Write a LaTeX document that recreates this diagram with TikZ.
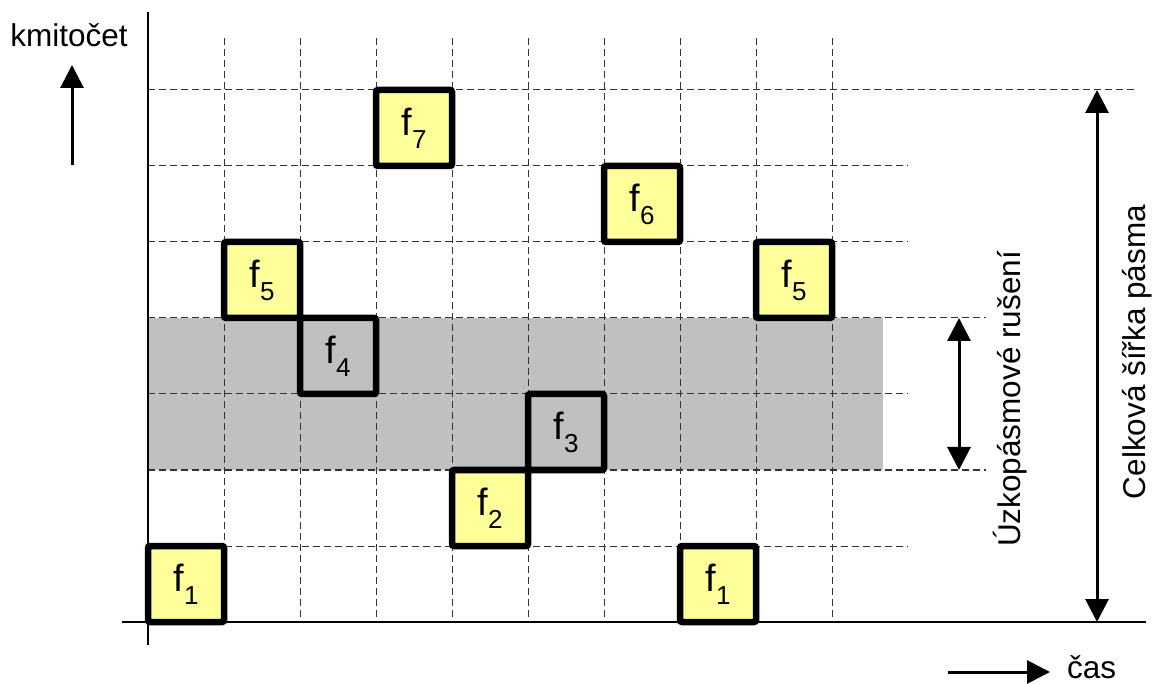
\documentclass[tikz,border=0pt]{standalone}
\usepackage{fontspec}
\setmainfont{Liberation Sans}
\usetikzlibrary{arrows.meta}
\definecolor{boxyellow}{RGB}{255,255,153}
\definecolor{bandgray}{RGB}{192,192,192}
\newcommand\flab[1]{f\raisebox{-13pt}{\fontsize{26}{26}\selectfont #1}}
\begin{document}
\begin{tikzpicture}[x=1pt,y=-1pt,
  gridline/.style={black!80, line width=1pt, dash pattern=on 7pt off 4pt},
  cell/.style={draw=black, line width=6.5pt, rounded corners=2pt, minimum size=76pt,
    inner sep=0pt, fill=boxyellow, font=\fontsize{38}{38}\selectfont},
  graycell/.style={cell, fill=none},
  axisline/.style={line width=2pt},
  arr/.style={line width=3pt, -{Triangle[length=23pt,width=23pt]}},
  darr/.style={line width=3pt, {Triangle[length=23pt,width=23pt]}-{Triangle[length=23pt,width=23pt]}},
  lbl/.style={font=\fontsize{31.5}{31.5}\selectfont, inner sep=0pt}
]
\useasboundingbox (0,0) rectangle (1157,684);
% interference band
\fill[bandgray] (148,318) rectangle (883,470);
% grid
\foreach \x in {224,300,376,452,528,604,680,756,832}
  \draw[gridline] (\x,38) -- (\x,622);
\draw[gridline] (148,90) -- (1135,90);
\foreach \y in {166,242,394,546}
  \draw[gridline] (148,\y) -- (908,\y);
\foreach \y in {318,470}
  \draw[gridline] (148,\y) -- (986,\y);
% cells
\node[cell] (f1a) at (186,584) {\flab{1}};
\node[cell] (f1b) at (718,584) {\flab{1}};
\node[cell] (f2) at (490,508) {\flab{2}};
\node[graycell] (f3) at (566,432) {\flab{3}};
\node[graycell] (f4) at (338,356) {\flab{4}};
\node[cell] (f5a) at (262,280) {\flab{5}};
\node[cell] (f5b) at (794,280) {\flab{5}};
\node[cell] (f6) at (642,204) {\flab{6}};
\node[cell] (f7) at (414,128) {\flab{7}};
% axes
\coordinate (yaxtop) at (148,12);
\coordinate (yaxbot) at (148,645);
\coordinate (xaxl) at (122,622);
\coordinate (xaxr) at (1146,622);
\draw[axisline] (yaxtop) -- (yaxbot);
\draw[axisline] (xaxl) -- (xaxr);
% axis labels
\node[lbl, anchor=base] (kmit) at (69,47) {kmitočet};
\coordinate (upS) at (72,165);
\coordinate (upE) at (72,65);
\draw[arr] (upS) -- (upE);
\node[lbl, anchor=base west] (cas) at (1067,678) {čas};
\coordinate (rtS) at (948,672);
\coordinate (rtE) at (1050,672);
\draw[arr] (rtS) -- (rtE);
% bandwidth arrows
\coordinate (bwT) at (1097,90);
\coordinate (bwB) at (1097,622);
\draw[darr] (bwT) -- (bwB);
\coordinate (nbT) at (959,318);
\coordinate (nbB) at (959,470);
\draw[darr] (nbT) -- (nbB);
\node[lbl, rotate=90, anchor=base] (uzk) at (1020,399) {Úzkopásmové rušení};
\node[lbl, rotate=90, anchor=base] (celk) at (1145,352) {Celková šířka pásma};
\end{tikzpicture}
\end{document}
